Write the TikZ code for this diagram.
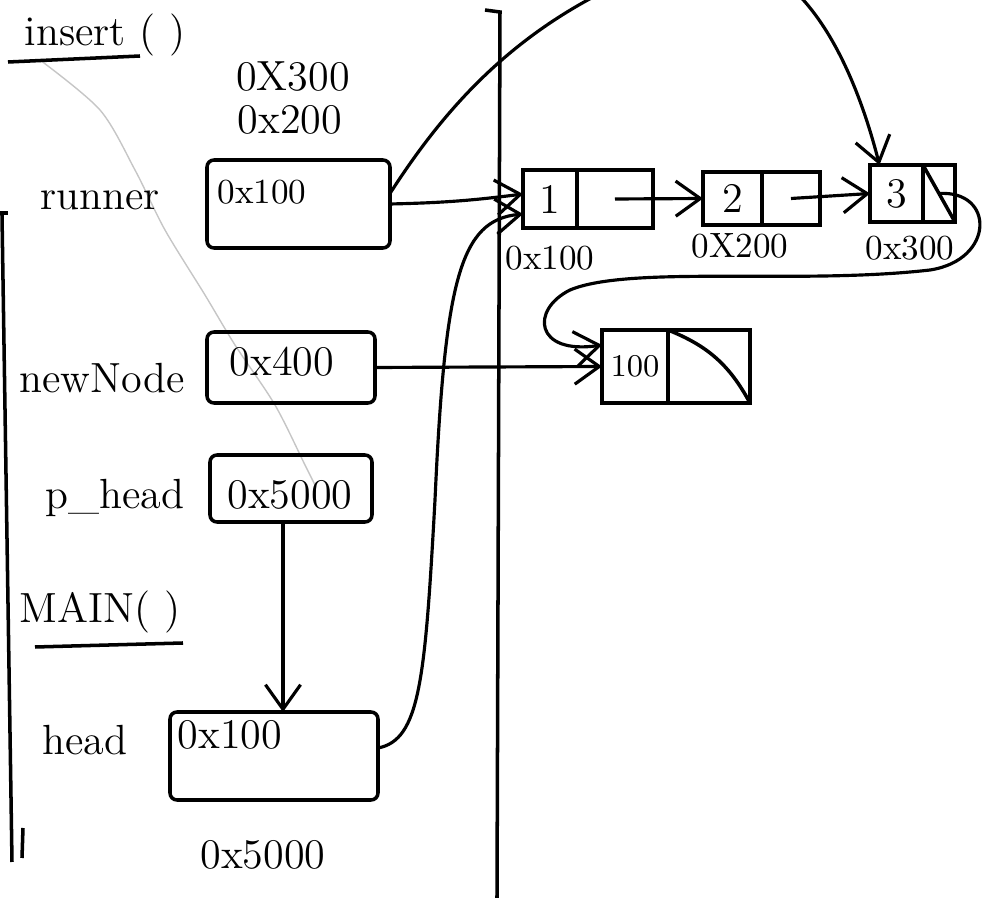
\documentclass[tikz,border=0pt]{standalone}
\usepackage{tikz}
\usetikzlibrary{positioning, arrows.meta}

\begin{document}
\begin{tikzpicture}[x=1cm, y=1cm,
    lbl/.style={font=\large},
    addr/.style={font=\large},
    tag/.style={font=\normalsize},
    ptrbox/.style={draw, line width=1pt, rounded corners=2pt, inner sep=0pt, outer sep=0pt},
    cell/.style={draw, line width=1pt, inner sep=0pt, outer sep=0pt, font=\large},
    ptr/.style={line width=0.9pt, -{Straight Barb[length=7pt, width=10pt]}}]

    \useasboundingbox (0,0) rectangle (9.86,9.00);
    \clip (0,0) rectangle (9.86,9.00);

    % ==========================================
    % STACK (Left Side)
    % ==========================================

    % faint pencil mark
    \draw[gray!45, thin] plot[smooth] coordinates
        {(0.40,8.40) (1.0,7.90) (1.35,7.30) (1.65,6.70) (2.05,6.05) (2.35,5.55) (2.75,4.95) (3.05,4.35) (3.15,4.15)};

    % Frame borders
    \draw[line width=1pt] (0,6.87) -- (0.08,6.87);
    \draw[line width=1pt] (0.02,6.85) -- (0.12,0.38);
    \draw[line width=1pt] (0.23,0.72) -- (0.22,0.42);
    \draw[line width=1pt] (4.85,8.90) -- (5.00,8.88) -- (4.97,0.02);

    % insert() frame
    \node[lbl] (insertlbl) at (1.05,8.65) {insert ( )};
    \draw[line width=1pt] (0.08,8.38) -- (1.40,8.44);

    \node[addr] (old3) at (2.93,8.23) {0X300};
    \node[addr] (old2) at (2.90,7.80) {0x200};

    % runner
    \node[lbl] (runnerlbl) at (1.00,7.00) {runner};
    \node[ptrbox, minimum width=1.83cm, minimum height=0.88cm] (runner) at (2.985,6.96) {};
    \node[addr, font=\normalsize] (runneraddr) at (2.62,7.08) {0x100};

    % newNode
    \node[lbl] (newnodelbl) at (1.02,5.22) {newNode};
    \node[ptrbox, minimum width=1.68cm, minimum height=0.71cm] (newnode) at (2.91,5.325) {};
    \node[addr] (newnodeaddr) at (2.82,5.38) {0x400};

    % p_head
    \node[lbl] (pheadlbl) at (1.15,4.02) {p\_head};
    \node[ptrbox, minimum width=1.62cm, minimum height=0.67cm] (phead) at (2.91,4.115) {};
    \node[addr] (pheadaddr) at (2.90,4.05) {0x5000};

    % MAIN() frame
    \node[lbl] (mainlbl) at (1.00,2.88) {MAIN( )};
    \draw[line width=1pt] (0.35,2.53) -- (1.83,2.57);

    % head
    \node[lbl] (headlbl) at (0.85,1.60) {head};
    \node[ptrbox, minimum width=2.08cm, minimum height=0.88cm] (head) at (2.74,1.44) {};
    \node[addr] (headaddr) at (2.30,1.65) {0x100};
    \node[addr] (headloc) at (2.63,0.45) {0x5000};

    % ==========================================
    % HEAP (Right Side)
    % ==========================================

    % node 1
    \node[cell, minimum width=0.54cm, minimum height=0.58cm] (n1val) at (5.50,7.01) {1};
    \node[cell, minimum width=0.76cm, minimum height=0.58cm, right=0pt of n1val] (n1nxt) {};
    \node[tag] (n1addr) at (5.50,6.42) {0x100};

    % node 2
    \node[cell, minimum width=0.59cm, minimum height=0.53cm] (n2val) at (7.325,7.015) {2};
    \node[cell, minimum width=0.58cm, minimum height=0.53cm, right=0pt of n2val] (n2nxt) {};
    \node[tag] (n2addr) at (7.40,6.54) {0X200};

    % node 3
    \node[cell, minimum width=0.53cm, minimum height=0.57cm] (n3val) at (8.965,7.065) {3};
    \node[cell, minimum width=0.32cm, minimum height=0.57cm, right=0pt of n3val] (n3nxt) {};
    \node[tag] (n3addr) at (9.10,6.52) {0x300};
    \draw[line width=1pt] (n3nxt.north west) -- (n3nxt.south east);

    % new node
    \node[cell, font=\small, minimum width=0.66cm, minimum height=0.73cm] (newval) at (6.35,5.335) {100};
    \node[cell, minimum width=0.82cm, minimum height=0.73cm, right=0pt of newval] (newnxt) {};
    \draw[line width=1pt] (newnxt.north west) to[bend left=20] (newnxt.south east);

    % ==========================================
    % POINTERS
    % ==========================================
    \draw[ptr] (n1nxt.center) -- (n2val.west);
    \draw[ptr] (n2nxt.center) -- (n3val.west);

    \draw[ptr] (runner.east) to[bend right=3] ([yshift=0.05cm]n1val.west);
    \draw[ptr] ([yshift=3pt]runner.east) .. controls (4.5,8.0) and (5.3,8.9) .. (6.8,9.4)
        .. controls (7.9,9.7) and (8.5,8.5) .. ([xshift=-0.17cm]n3val.north);

    \draw[ptr] (newnode.east) -- (newval.west);

    \draw[ptr] ([xshift=-0.08cm]phead.south) -- ([xshift=-0.08cm]phead.south |- head.north);

    \draw[ptr] ([yshift=0.08cm]head.east) .. controls (4.2,1.6) and (4.25,2.2) .. (4.35,4.0)
        .. controls (4.45,6.2) and (4.6,6.8) .. ([yshift=-0.15cm]n1val.west);

    \draw[ptr] (n3nxt.center) .. controls (9.95,7.1) and (9.95,6.4) .. (9.3,6.3)
        .. controls (8.0,6.15) and (6.3,6.35) .. (5.7,6.1)
        .. controls (5.3,5.9) and (5.35,5.45) .. ([yshift=-0.15cm]newval.north west);
\end{tikzpicture}
\end{document}
